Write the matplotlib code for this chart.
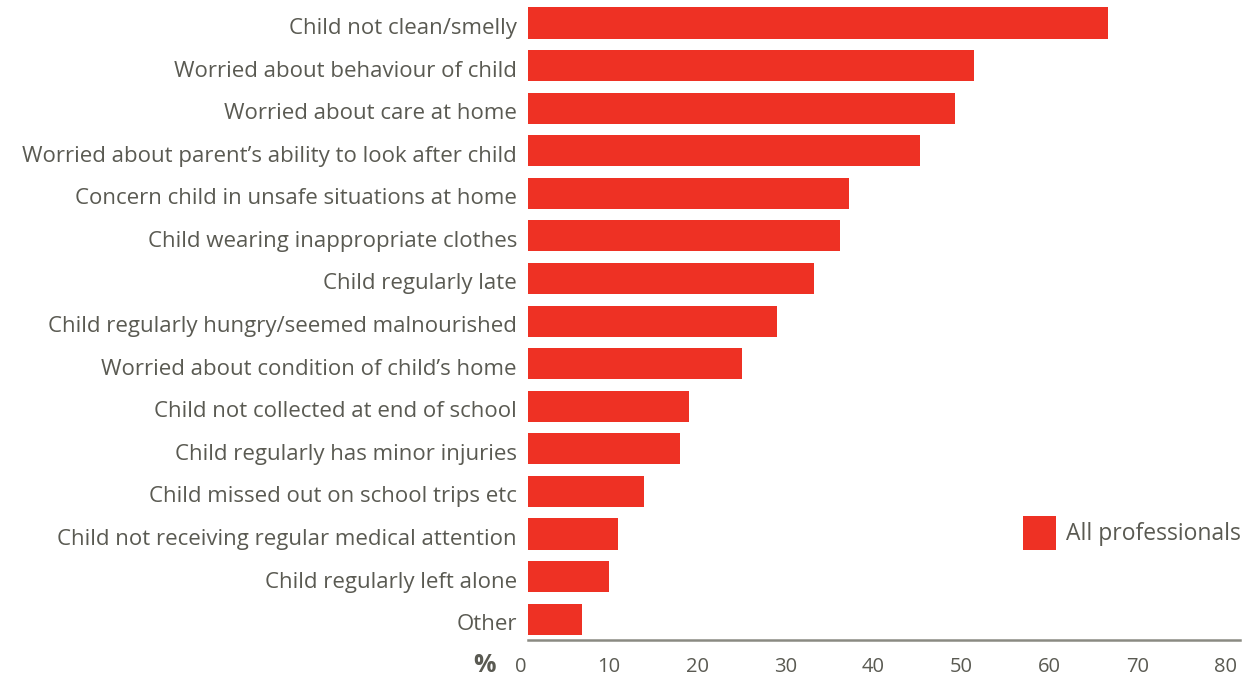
import numpy as np
import matplotlib.pyplot as plt
from matplotlib.transforms import ScaledTranslation

# Categorias y porcentajes
categorias = [
    'Child not clean/smelly',
    'Worried about behaviour of child',
    'Worried about care at home',
    'Worried about parent\u2019s ability to look after child',
    'Concern child in unsafe situations at home',
    'Child wearing inappropriate clothes',
    'Child regularly late',
    'Child regularly hungry/seemed malnourished',
    'Worried about condition of child\u2019s home',
    'Child not collected at end of school',
    'Child regularly has minor injuries',
    'Child missed out on school trips etc',
    'Child not receiving regular medical attention',
    'Child regularly left alone',
    'Other',
]
valores = [65.8, 50.6, 48.5, 44.5, 36.4, 35.4, 32.4, 28.3, 24.3, 18.3, 17.2, 13.2, 10.2, 9.2, 6.1]
ticks_x = [0, 10, 20, 30, 40, 50, 60, 70, 80]
serie = 'All professionals'

rojo = '#EE3124'
gris = '#5a5a52'
plt.rcParams['font.family'] = ['Open Sans', 'DejaVu Sans']

fig = plt.figure(figsize=(12.46, 6.81), dpi=100)
ax = fig.add_axes([528 / 1246, 41 / 681, 712 / 1246, 640 / 681])

y = np.arange(len(categorias))
ax.barh(y, valores, height=0.73, color=rojo, label=serie)

ax.set_xlim(0, 80.8)
ax.set_ylim(14.49, -0.54)
ax.set_yticks(y)
ax.set_yticklabels(categorias, fontsize=16, color=gris)
ax.set_xticks(ticks_x)
ax.set_xticklabels([str(t) for t in ticks_x], fontsize=14.5, color=gris)
ax.tick_params(axis='both', length=0)
ax.tick_params(axis='y', pad=8)
ax.tick_params(axis='x', pad=12)
desplazamiento = ScaledTranslation(-7 / 100, 0, fig.dpi_scale_trans)
for lbl in ax.get_xticklabels():
    lbl.set_transform(lbl.get_transform() + desplazamiento)
bajar = ScaledTranslation(0, -3 / 100, fig.dpi_scale_trans)
for lbl in ax.get_yticklabels():
    lbl.set_transform(lbl.get_transform() + bajar)

for s in ['top', 'right', 'left']:
    ax.spines[s].set_visible(False)
ax.spines['bottom'].set_color('#8a8a82')
ax.spines['bottom'].set_linewidth(1.8)

fig.text(484 / 1246, 1 - 665 / 681, '%', fontsize=18, fontweight='bold', color=gris,
         ha='center', va='center')

ax.legend(loc='lower right', bbox_to_anchor=(1.0145, 0.127), frameon=False, fontsize=16.5,
          labelcolor=gris, handlelength=1.45, handleheight=1.9, handletextpad=0.45,
          borderaxespad=0)

fig.savefig('out.png', dpi=100)
